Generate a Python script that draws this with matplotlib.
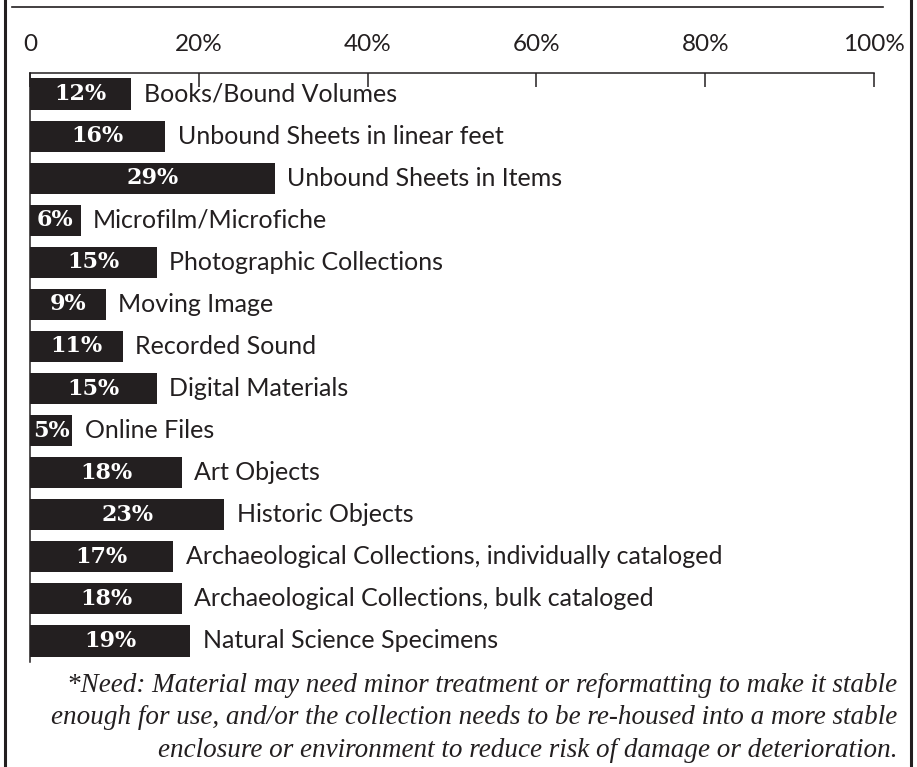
import matplotlib
matplotlib.use("Agg")
import matplotlib.pyplot as plt
from matplotlib.lines import Line2D

categories = [
    "Books/Bound Volumes",
    "Unbound Sheets in linear feet",
    "Unbound Sheets in Items",
    "Microfilm/Microfiche",
    "Photographic Collections",
    "Moving Image",
    "Recorded Sound",
    "Digital Materials",
    "Online Files",
    "Art Objects",
    "Historic Objects",
    "Archaeological Collections, individually cataloged",
    "Archaeological Collections, bulk cataloged",
    "Natural Science Specimens",
]
values = [12, 16, 29, 6, 15, 9, 11, 15, 5, 18, 23, 17, 18, 19]
tick_values = [0, 20, 40, 60, 80, 100]
tick_labels = ["0", "20%", "40%", "60%", "80%", "100%"]
footnote = ("*Need: Material may need minor treatment or reformatting to make it stable\n"
            "enough for use, and/or the collection needs to be re-housed into a more stable\n"
            "enclosure or environment to reduce risk of damage or deterioration.")

INK = "#231f20"
W, H = 917, 767
fig = plt.figure(figsize=(W / 100, H / 100), dpi=100)
fig.patch.set_facecolor("white")

ax = fig.add_axes([30 / W, 1 - 662 / H, (874 - 30) / W, (662 - 73) / H])
y = list(range(len(categories)))
ax.barh(y, values, height=0.74, color=INK, edgecolor="none")
ax.set_xlim(0, 100)
ax.set_ylim(len(categories) - 0.5, -0.5)

for spine in ["right", "bottom"]:
    ax.spines[spine].set_visible(False)
ax.spines["top"].set_color(INK)
ax.spines["left"].set_color(INK)
ax.spines["top"].set_linewidth(1.1)
ax.spines["left"].set_linewidth(1.1)
ax.xaxis.set_ticks_position("top")
ax.xaxis.set_label_position("top")
ax.set_xticks(tick_values)
ax.set_xticklabels(tick_labels)
ax.tick_params(axis="x", direction="in", length=10, width=1.1, color=INK,
               pad=13, labelsize=17.5, labelcolor=INK)
for lab in ax.get_xticklabels():
    lab.set_family("Lato")
ax.set_yticks([])

for i, (v, c) in enumerate(zip(values, categories)):
    ax.text(v / 2, i, f"{v}%", ha="center", va="center", color="white",
            fontsize=16, fontweight="bold", family="DejaVu Serif")
    ax.annotate(c, xy=(v, i), xytext=(9, 0), textcoords="offset points",
                ha="left", va="center", color=INK, fontsize=18, family="Lato")

fig.text(897 / W, 1 - 718 / H, footnote, ha="right", va="center", color=INK,
         fontsize=19.5, style="italic", family="Liberation Serif", linespacing=1.42)

# frame lines
fig.add_artist(Line2D([5 / W, 5 / W], [0, 1], color=INK, lw=2.2))
fig.add_artist(Line2D([911 / W, 911 / W], [0, 1], color=INK, lw=2.2))
fig.add_artist(Line2D([12 / W, 883 / W], [1 - 7 / H, 1 - 7 / H], color=INK, lw=1.2))

fig.savefig("out.png", dpi=100)
